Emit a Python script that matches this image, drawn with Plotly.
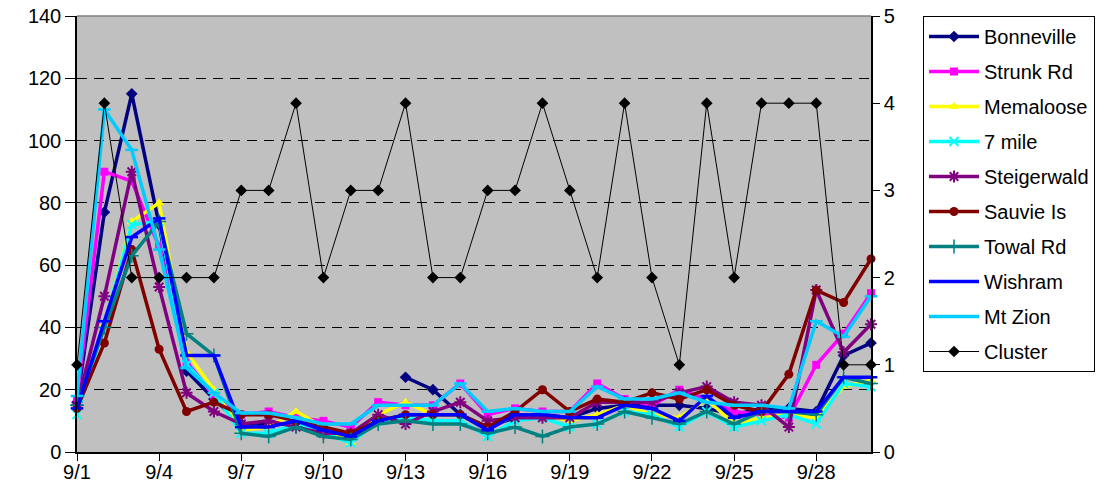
import plotly.graph_objects as go

days = list(range(1, 31))
tick_vals = [1, 4, 7, 10, 13, 16, 19, 22, 25, 28]
tick_text = ["9/1", "9/4", "9/7", "9/10", "9/13", "9/16", "9/19", "9/22", "9/25", "9/28"]

bonneville = [16, 77, 115, 73, 26, 17, 9, 9, 9, None, None, None, 24, 20, 12, 8, 11, 12, 11, 14,
              15, 15, 15, 14, 12, 14, 14, 13, 31, 35]
strunk_rd = [17, 90, 87, 66, 29, 18, 12, 13, 11, 10, 8, 16, 15, 15, 22, 12, 14, 13, 13, 22,
             17, 15, 20, 17, 13, 12, 11, 28, 38, 51]
memaloose = [14, 41, 74, 80, 32, 20, 7, 8, 13, 8, 3, 12, 16, 12, 12, 7, 12, 12, 10, 12,
             15, 12, 11, 17, 9, 11, 12, 11, 21, 23]
seven_mile = [12, 41, 73, 74, 28, 19, 6, 6, 9, 6, 3, 10, 11, 10, 10, 5, 10, 11, 8, 9,
              13, 12, 8, 13, 8, 10, 12, 9, 22, 21]
steigerwald = [15, 50, 90, 53, 19, 13, 9, 10, 8, 6, 6, 12, 9, 13, 16, 10, 11, 11, 11, 16,
               16, 16, 19, 21, 16, 15, 8, 52, 32, 41]
sauvie_is = [14, 35, 65, 33, 13, 16, 12, 12, 10, 8, 6, 10, 12, 12, 12, 8, 13, 20, 13, 17,
             16, 19, 17, 20, 15, 13, 25, 52, 48, 62]
towal_rd = [15, 40, 63, 74, 38, 31, 6, 5, 8, 5, 4, 9, 10, 9, 9, 6, 8, 5, 8, 9,
            13, 11, 9, 13, 9, 13, 13, 12, 24, 22]
wishram = [14, 42, 69, 75, 31, 31, 8, 8, 10, 7, 5, 10, 12, 12, 12, 7, 12, 12, 11, 11,
           15, 14, 10, 18, 11, 13, 13, 13, 24, 24]
mt_zion = [18, 110, 97, 65, 27, 19, 12.5, 12.5, 11, 9, 9, 15, 15, 15, 22, 13, 14, 13, 13, 21,
           17, 17, 19, 16, 15, 15, 14, 42, 37, 50]
cluster = [1, 4, 2, 2, 2, 2, 3, 3, 4, 2, 3, 3, 4, 2, 2, 3, 3, 4, 3, 2,
           4, 2, 1, 4, 2, 4, 4, 4, 1, 1]

series = [
    ("Bonneville", bonneville, "#000080", "diamond", 9, 0),
    ("Strunk Rd", strunk_rd, "#FF00FF", "square", 8, 0),
    ("Memaloose", memaloose, "#FFFF00", "triangle-up", 9, 0),
    ("7 mile", seven_mile, "#00FFFF", "x-thin", 9, 2),
    ("Steigerwald", steigerwald, "#800080", "asterisk", 10, 2),
    ("Sauvie Is", sauvie_is, "#800000", "circle", 9, 0),
    ("Towal Rd", towal_rd, "#008080", "cross-thin", 10, 1.5),
    ("Wishram", wishram, "#0000FF", "line-ew", 9, 2.5),
    ("Mt Zion", mt_zion, "#00CCFF", "line-ew", 9, 2.5),
]

font_family = "Liberation Sans, Arial, sans-serif"
fig = go.Figure()
for i, (name, vals, color, sym, size, mlw) in enumerate(series):
    fig.add_trace(go.Scatter(
        x=days, y=vals, name=name, mode="lines+markers",
        line=dict(color=color, width=3.5),
        marker=dict(symbol=sym, size=size, color=color, line=dict(color=color, width=mlw)),
        cliponaxis=False, connectgaps=False, legendgroup=f"g{i}",
    ))

fig.add_trace(go.Scatter(
    x=days, y=cluster, name="Cluster", mode="lines+markers", yaxis="y2",
    line=dict(color="black", width=1),
    marker=dict(symbol="diamond", size=9, color="black"),
    cliponaxis=False, legendgroup="g9",
))

axis_font = dict(family=font_family, size=20, color="black")
fig.update_layout(
    width=1103, height=495,
    margin=dict(l=69, r=240, t=8, b=51, autoexpand=False),
    paper_bgcolor="white", plot_bgcolor="#C0C0C0",
    font=dict(family=font_family, color="black"),
    showlegend=True,
    legend=dict(
        x=1.0655, y=1.0, xanchor="left", yanchor="top",
        bordercolor="black", borderwidth=1, bgcolor="white",
        font=dict(family=font_family, size=20, color="black"),
        tracegroupgap=6, itemwidth=50, maxheight=600,
    ),
    xaxis=dict(
        range=[1, 30], tickvals=tick_vals, ticktext=tick_text, automargin=False,
        showgrid=False, zeroline=False, showline=True, linecolor="black", linewidth=1.5,
        ticks="outside", ticklen=7, tickcolor="black", tickfont=axis_font,
        ticklabelstandoff=-6, ticklabeloverflow="allow",
    ),
    yaxis=dict(
        range=[0, 140], dtick=20, showgrid=True, gridcolor="black", gridwidth=1,
        griddash="10px,7px", zeroline=False, showline=True, linecolor="black", linewidth=1.5,
        ticks="outside", ticklen=10, tickcolor="black", tickfont=axis_font, automargin=False,
        ticklabelstandoff=0, ticklabeloverflow="allow",
    ),
    yaxis2=dict(
        range=[0, 5], dtick=1, overlaying="y", side="right", showgrid=False, zeroline=False,
        showline=True, linecolor="black", linewidth=1.5, automargin=False,
        ticks="outside", ticklen=7, tickcolor="black", tickfont=axis_font,
        ticklabeloverflow="allow",
    ),
    shapes=[dict(type="line", xref="paper", yref="paper", x0=0, x1=1, y0=1, y1=1,
                 line=dict(color="#808080", width=1.5), layer="above")],
)

fig.write_html("out.html")
